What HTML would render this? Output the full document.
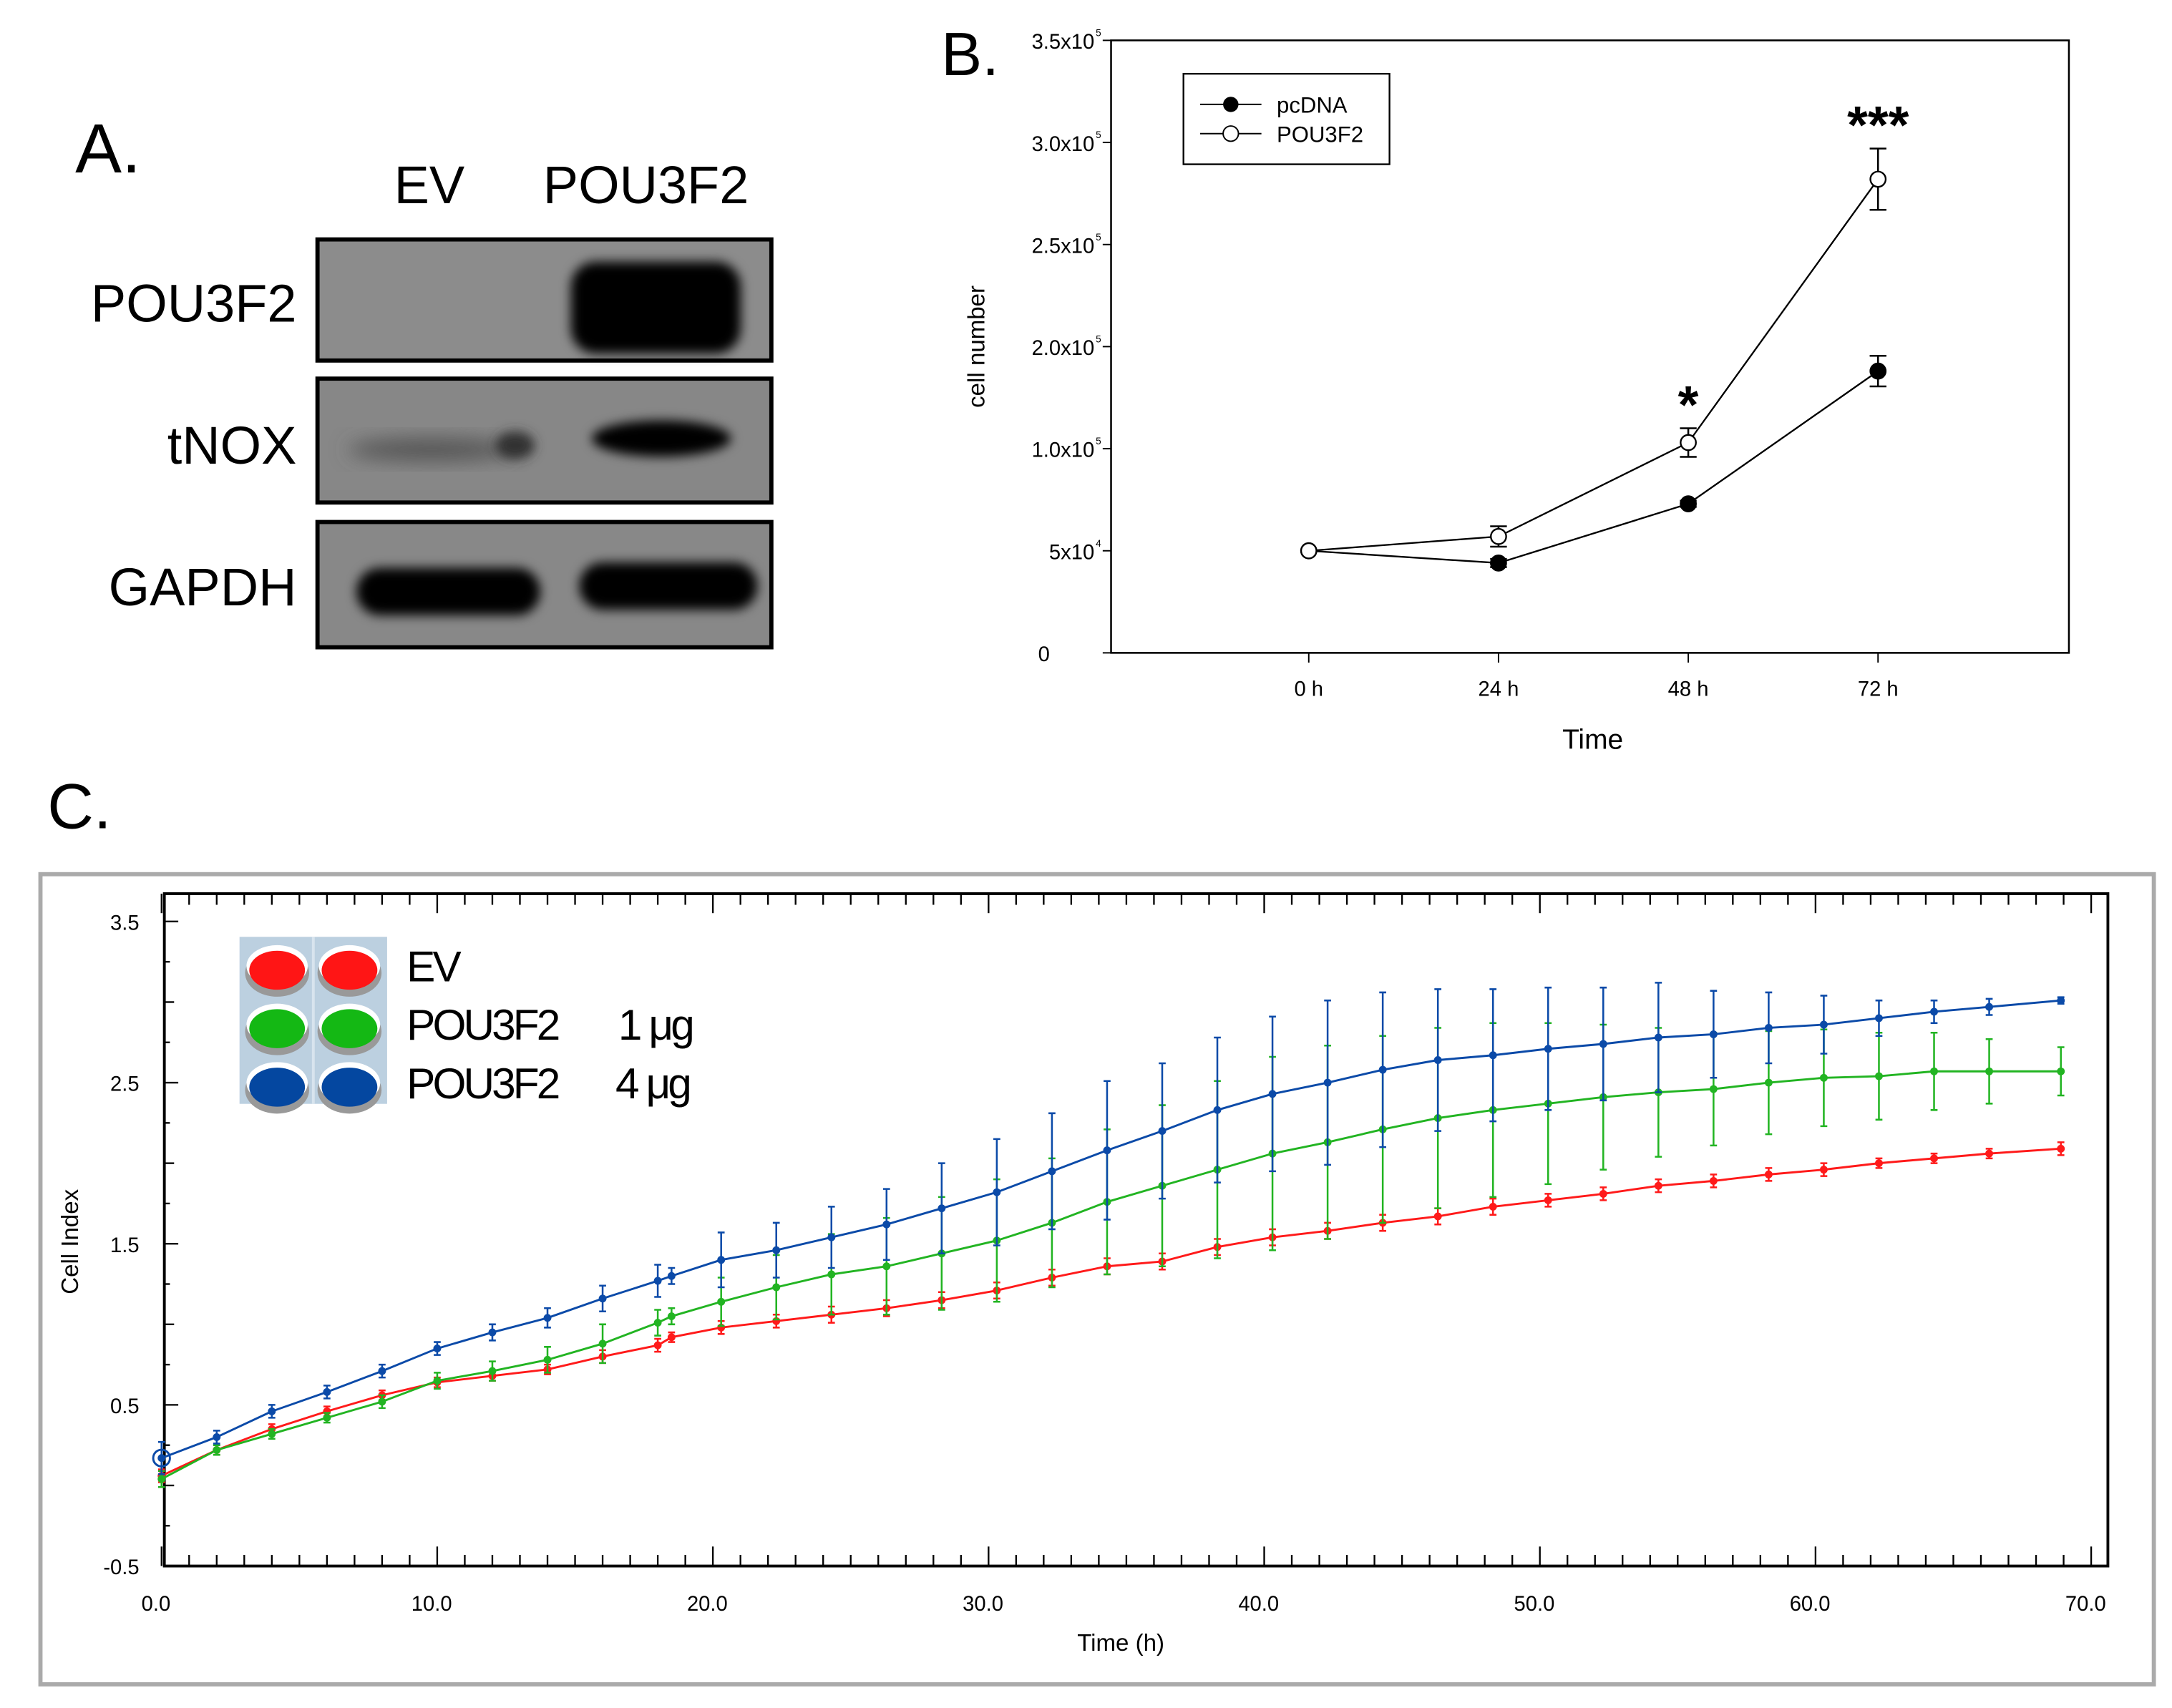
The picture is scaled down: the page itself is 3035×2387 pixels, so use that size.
<!DOCTYPE html>
<html><head><meta charset="utf-8">
<style>html,body{margin:0;padding:0;background:#fff}svg{display:block}</style></head>
<body>
<svg id="fig" xmlns="http://www.w3.org/2000/svg" width="3035" height="2387" viewBox="0 0 1560 1227" font-family="Liberation Sans, Arial, sans-serif">
<defs>
<filter id="blur3" x="-30%" y="-50%" width="160%" height="200%"><feGaussianBlur stdDeviation="4"/></filter>
<filter id="blur6" x="-30%" y="-50%" width="160%" height="200%"><feGaussianBlur stdDeviation="7"/></filter>
</defs>
<!-- Panel A -->
<g>
<text x="54" y="124" font-size="50">A.</text>
<text x="283" y="146" font-size="38">EV</text>
<text x="390" y="146" font-size="38">POU3F2</text>
<text x="213" y="231" font-size="38" text-anchor="end">POU3F2</text>
<text x="213" y="333" font-size="38" text-anchor="end">tNOX</text>
<text x="213" y="435" font-size="38" text-anchor="end">GAPDH</text>
<g>
<rect x="228" y="172" width="326" height="87" fill="#8c8c8c" stroke="#000" stroke-width="3"/>
<rect x="410" y="188" width="122" height="66" rx="18" fill="#000" filter="url(#blur3)"/>
</g>
<g>
<rect x="228" y="272" width="326" height="89" fill="#878787" stroke="#000" stroke-width="3"/>
<ellipse cx="310" cy="323" rx="60" ry="8" fill="#555" filter="url(#blur6)"/>
<ellipse cx="370" cy="320" rx="14" ry="10" fill="#333" filter="url(#blur3)"/>
<ellipse cx="475" cy="315" rx="50" ry="13" fill="#000" filter="url(#blur3)"/>
</g>
<g>
<rect x="228" y="375" width="326" height="90" fill="#888" stroke="#000" stroke-width="3"/>
<rect x="256" y="408" width="132" height="34" rx="17" fill="#000" filter="url(#blur3)"/>
<rect x="416" y="404" width="128" height="34" rx="17" fill="#000" filter="url(#blur3)"/>
</g>
</g>
<!-- Panel B -->
<g id="pb">
<text x="676" y="54" font-size="44">B.</text>
<rect x="798" y="29" width="688" height="440" fill="none" stroke="#000" stroke-width="1.3"/>
<text transform="translate(707,249) rotate(-90)" font-size="17" text-anchor="middle">cell number</text>
<text x="1144" y="538" font-size="20" text-anchor="middle">Time</text>
<g>
<rect x="850" y="53" width="148" height="65" fill="#fff" stroke="#000" stroke-width="1.2"/>
<line x1="862" y1="75" x2="906" y2="75" stroke="#000"/><circle cx="884" cy="75" r="5.5" fill="#000"/>
<text x="917" y="81" font-size="16">pcDNA</text>
<line x1="862" y1="96" x2="906" y2="96" stroke="#000"/><circle cx="884" cy="96" r="5.5" fill="#fff" stroke="#000"/>
<text x="917" y="102" font-size="16">POU3F2</text>
</g>
</g>
<!-- Panel C -->
<g id="pc">
<text x="34" y="595" font-size="46">C.</text>
<rect x="29" y="628" width="1518" height="582" fill="#fff" stroke="#aaa" stroke-width="3"/>
<rect x="118" y="642" width="1396" height="483" fill="#fff" stroke="#000" stroke-width="2"/>
<text transform="translate(56,892) rotate(-90)" font-size="17" text-anchor="middle">Cell Index</text>
<text x="805" y="1186" font-size="17" text-anchor="middle">Time (h)</text>
<g>
<rect x="172" y="673" width="106" height="120" fill="#bcd0e0"/>
<line x1="225" y1="673" x2="225" y2="793" stroke="#d8e4ee" stroke-width="2"/>
<g id="lgdots"></g>
<text x="292" y="705" font-size="31" letter-spacing="-2">EV</text>
<text y="747" font-size="31" letter-spacing="-2"><tspan x="292">POU3F2</tspan><tspan x="444">1 μg</tspan></text>
<text y="789" font-size="31" letter-spacing="-2"><tspan x="292">POU3F2</tspan><tspan x="442">4 μg</tspan></text>
</g>
</g>
</svg>
<script>
// ---- Panel B data ----
const bTimes = ["0 h","24 h","48 h","72 h"];
const bPcdna = [50000, 44000, 73000, 138000];
const bPcdnaErr = [0, 2000, 1500, 7500];
const bPou = [50000, 57000, 103000, 232000];
const bPouErr = [0, 5000, 7000, 15000];
const bYTicks = [0, 50000, 100000, 150000, 200000, 250000, 300000];
const bYLabels = ["0","5x10|4","1.0x10|5","2.0x10|5","2.5x10|5","3.0x10|5","3.5x10|5"];
const bStars = ["","","*","***"];
// ---- Panel C data ----
const cTimes = [0,2,4,6,8,10,12,14,16,18,18.5,20.3,22.3,24.3,26.3,28.3,30.3,32.3,34.3,36.3,38.3,40.3,42.3,44.3,46.3,48.3,50.3,52.3,54.3,56.3,58.3,60.3,62.3,64.3,66.3,68.9];
const cBlue = [0.17,0.30,0.46,0.58,0.71,0.85,0.95,1.04,1.16,1.27,1.30,1.40,1.46,1.54,1.62,1.72,1.82,1.95,2.08,2.20,2.33,2.43,2.50,2.58,2.64,2.67,2.71,2.74,2.78,2.80,2.84,2.86,2.90,2.94,2.97,3.01];
const cBlueErr = [0.1,0.04,0.04,0.04,0.04,0.04,0.05,0.06,0.08,0.1,0.05,0.17,0.17,0.19,0.22,0.28,0.33,0.36,0.43,0.42,0.45,0.48,0.51,0.48,0.44,0.41,0.38,0.35,0.34,0.27,0.22,0.18,0.11,0.07,0.05,0.02];
const cGreen = [0.04,0.22,0.32,0.42,0.52,0.65,0.71,0.78,0.88,1.01,1.05,1.14,1.23,1.31,1.36,1.44,1.52,1.63,1.76,1.86,1.96,2.06,2.13,2.21,2.28,2.33,2.37,2.41,2.44,2.46,2.50,2.53,2.54,2.57,2.57,2.57];
const cGreenErr = [0.05,0.03,0.03,0.03,0.04,0.05,0.06,0.08,0.12,0.08,0.05,0.15,0.2,0.25,0.3,0.35,0.38,0.4,0.45,0.5,0.55,0.6,0.6,0.58,0.56,0.54,0.5,0.45,0.4,0.35,0.32,0.3,0.27,0.24,0.2,0.15];
const cRed = [0.06,0.22,0.35,0.46,0.56,0.64,0.68,0.72,0.80,0.87,0.92,0.98,1.02,1.06,1.10,1.15,1.21,1.29,1.36,1.39,1.48,1.54,1.58,1.63,1.67,1.73,1.77,1.81,1.86,1.89,1.93,1.96,2.00,2.03,2.06,2.09];
const cRedErr = [0.04,0.03,0.03,0.03,0.03,0.03,0.03,0.03,0.04,0.04,0.03,0.04,0.04,0.05,0.05,0.05,0.05,0.05,0.05,0.05,0.05,0.05,0.05,0.05,0.05,0.05,0.04,0.04,0.04,0.04,0.04,0.04,0.03,0.03,0.03,0.04];
const cXTicks = [0,10,20,30,40,50,60,70];
const cYTicks = [-0.5,0.5,1.5,2.5,3.5];

const NS = "http://www.w3.org/2000/svg";
function mk(parent, tag, attrs){const e=document.createElementNS(NS,tag);for(const k in attrs)e.setAttribute(k,attrs[k]);parent.appendChild(e);return e;}

// Panel B
const pb = document.getElementById('pb');
const bx = i => 940 + i*136.3;
const by = v => 469 - v/300000*440;
bYTicks.forEach((t,i)=>{
  const y=by(t);
  const tk=mk(pb,'line',{x1:792,x2:798,y1:y,y2:y,stroke:'#000'});
  
  
  const parts=bYLabels[i].split('|');
  const tx=mk(pb,'text',{x:parts[1]?786:754,y:y+6,'font-size':15,'text-anchor':'end'});
  
  
  tx.textContent=parts[0];
  if(parts[1]){const s=mk(pb,'text',{x:787,y:y-3,'font-size':7});s.textContent=parts[1];
    
    }
});
bTimes.forEach((t,i)=>{
  const x=bx(i);
  const tk=mk(pb,'line',{x1:x,x2:x,y1:469,y2:476,stroke:'#000'});
  
  
  const tx=mk(pb,'text',{x:x,y:500,'font-size':15,'text-anchor':'middle'});
  tx.textContent=t;
  
  
});
function bSeries(vals,errs,fill,name){
  const g=mk(pb,'g',{});
  
  
  mk(g,'polyline',{points:vals.map((v,i)=>bx(i)+','+by(v)).join(' '),fill:'none',stroke:'#000','stroke-width':1.2});
  vals.forEach((v,i)=>{
    if(errs[i]>0){const x=bx(i),y1=by(v+errs[i]),y2=by(v-errs[i]);
      mk(g,'path',{d:`M${x},${y1}V${y2}M${x-6},${y1}H${x+6}M${x-6},${y2}H${x+6}`,stroke:'#000','stroke-width':1.3,fill:'none'});}
    const c=mk(g,'circle',{cx:bx(i),cy:by(v),r:5.5,fill:fill,stroke:'#000','stroke-width':1.2});
    
    
  });
}
bSeries(bPcdna,bPcdnaErr,'#000','series-pcdna');
bSeries(bPou,bPouErr,'#fff','series-pou3f2');
bStars.forEach((s,i)=>{ if(!s) return;
  const tx=mk(pb,'text',{x:bx(i),y:by(bPou[i]+bPouErr[i])-4,'font-size':38,'font-weight':'bold','text-anchor':'middle'});
  tx.textContent=s;
  
  
});

// Panel C
const pc=document.getElementById('pc');
const cx = t => 116 + t*19.8;
const cy = v => 662 + (3.5-v)*115.75;
for(let t=0;t<=70;t++){
  const x=cx(t), L=(t%10===0)?14:8;
  mk(pc,'line',{x1:x,x2:x,y1:642,y2:642+L,stroke:'#000','stroke-width':1.2});
  mk(pc,'line',{x1:x,x2:x,y1:1125,y2:1125-L,stroke:'#000','stroke-width':1.2});
}
for(let v=-0.5;v<=3.5;v+=0.25){
  const y=cy(v), L=(Math.abs((v+0.5)%1)<1e-6)?10:(Math.abs((v*2)%1)<1e-6?7:4);
  mk(pc,'line',{x1:118,x2:118+L,y1:y,y2:y,stroke:'#000','stroke-width':1.2});
}
cXTicks.forEach(t=>{
  const tx=mk(pc,'text',{x:cx(t)-4,y:1157,'font-size':15,'text-anchor':'middle'});
  tx.textContent=t.toFixed(1);
  
  
});
cYTicks.forEach(v=>{
  const tx=mk(pc,'text',{x:100,y:cy(v)+6,'font-size':15,'text-anchor':'end'});
  tx.textContent=v.toFixed(1);
  
  
});
function cSeries(vals,errs,col,name){
  const g=mk(pc,'g',{});
  
  
  vals.forEach((v,i)=>{
    const x=cx(cTimes[i]),y1=cy(v+errs[i]),y2=cy(v-errs[i]);
    mk(g,'path',{d:`M${x},${y1}V${y2}M${x-2.5},${y1}H${x+2.5}M${x-2.5},${y2}H${x+2.5}`,stroke:col,'stroke-width':1.3,fill:'none'});
  });
  mk(g,'polyline',{points:vals.map((v,i)=>cx(cTimes[i])+','+cy(v)).join(' '),fill:'none',stroke:col,'stroke-width':1.5});
  vals.forEach((v,i)=>{
    const c=mk(g,'circle',{cx:cx(cTimes[i]),cy:cy(v),r:2.8,fill:col});
    
    
  });
}
cSeries(cRed,cRedErr,'#ff1a1a','series-ev');
cSeries(cGreen,cGreenErr,'#22b422','series-pou3f2-1ug');
cSeries(cBlue,cBlueErr,'#0b4aa8','series-pou3f2-4ug');
mk(pc,'circle',{cx:cx(0),cy:cy(cBlue[0]),r:6,fill:'none',stroke:'#0b4aa8','stroke-width':1.5});

// legend swatches
const lg=document.getElementById('lgdots');
const lcols=['#ff1515','#14b814','#0447a0'];
lcols.forEach((c,r)=>{[199,251].forEach(x=>{
  const y=697+r*42;
  mk(lg,'ellipse',{cx:x,cy:y+2,rx:23,ry:17,fill:'#999'});
  mk(lg,'ellipse',{cx:x,cy:y-3,rx:22,ry:15,fill:'#fff'});
  const e=mk(lg,'ellipse',{cx:x,cy:y,rx:20,ry:14,fill:c});
  
  
});});
</script>
</body></html>
